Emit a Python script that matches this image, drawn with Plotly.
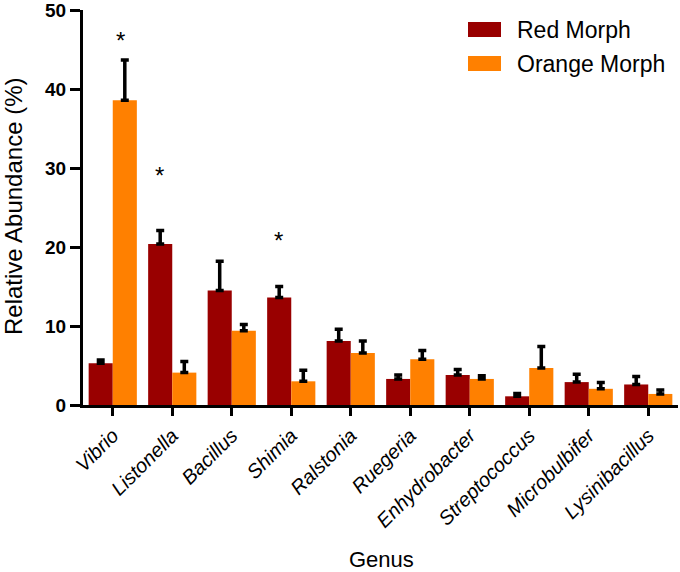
import plotly.graph_objects as go

genus = ["Vibrio", "Listonella", "Bacillus", "Shimia", "Ralstonia", "Ruegeria",
         "Enhydrobacter", "Streptococcus", "Microbulbifer", "Lysinibacillus"]
red_vals = [5.3, 20.4, 14.5, 13.6, 8.1, 3.3, 3.8, 1.1, 2.9, 2.6]
red_err = [0.4, 1.7, 3.7, 1.4, 1.5, 0.5, 0.7, 0.35, 1.0, 1.0]
orange_vals = [38.6, 4.1, 9.4, 3.0, 6.6, 5.8, 3.3, 4.7, 2.05, 1.4]
orange_err = [5.1, 1.4, 0.8, 1.4, 1.5, 1.1, 0.4, 2.7, 0.8, 0.5]
y_ticks = [0, 10, 20, 30, 40, 50]
# significance markers: (genus index, y value, x pixel offset)
sig_idx = [0, 1, 3]
sig_y = [46.2, 29.0, 20.8]
sig_shift = [8, -13, -13]

RED = "#990000"
ORANGE = "#FF8000"
FONT = "Arial, Liberation Sans, sans-serif"

W, H = 680, 572
L, R, T, B = 83, 2, 10, 167
PW, PH = W - L - R, H - T - B


def px(xp):
    return (xp - L) / PW


def py(yp):
    return 1 - (yp - T) / PH


x = list(range(len(genus)))
fig = go.Figure()
fig.add_trace(go.Bar(x=x, y=red_vals, name="Red Morph", marker_color=RED,
                     marker_line_width=0,
                     error_y=dict(type="data", array=red_err, arrayminus=[0]*len(genus),
                                  symmetric=False, color="black", thickness=3.5, width=4)))
fig.add_trace(go.Bar(x=x, y=orange_vals, name="Orange Morph", marker_color=ORANGE,
                     marker_line_width=0,
                     error_y=dict(type="data", array=orange_err, arrayminus=[0]*len(genus),
                                  symmetric=False, color="black", thickness=3.5, width=4)))

for i, yv, s in zip(sig_idx, sig_y, sig_shift):
    fig.add_annotation(x=i, y=yv, text="*", showarrow=False, xshift=s,
                       font=dict(family=FONT, size=24, color="black"), xref="x", yref="y")

# custom legend
legend_items = [("Red Morph", RED, 22), ("Orange Morph", ORANGE, 56)]
for name, col, y0 in legend_items:
    fig.add_shape(type="rect", xref="paper", yref="paper",
                  x0=px(468), x1=px(501), y0=py(y0 + 15), y1=py(y0),
                  fillcolor=col, line_width=0)
    fig.add_annotation(xref="paper", yref="paper", x=px(515), y=py(y0 + 7.5),
                       text=name, showarrow=False, xanchor="left", yanchor="middle",
                       font=dict(family=FONT, size=23, color="black"))

# axis titles
fig.add_annotation(xref="paper", yref="paper", x=px(381), y=py(559), text="Genus",
                   showarrow=False, xanchor="center", yanchor="middle",
                   font=dict(family=FONT, size=22, color="black"))
fig.add_annotation(xref="paper", yref="paper", x=px(13), y=py(207),
                   text="Relative Abundance (%)", textangle=-90,
                   showarrow=False, xanchor="center", yanchor="middle",
                   font=dict(family=FONT, size=24, color="black"))

fig.update_layout(
    width=W, height=H,
    margin=dict(l=L, r=R, t=T, b=B),
    paper_bgcolor="white", plot_bgcolor="white",
    barmode="group", bargap=0.19, bargroupgap=0,
    showlegend=False,
    font=dict(family=FONT, color="black"),
)
fig.update_xaxes(
    range=[-0.5, 9.5], tickmode="array", tickvals=x, automargin=False,
    ticktext=[f"<i>{g}</i>" for g in genus], tickangle=-45,
    tickfont=dict(family=FONT, size=20, color="black"),
    showline=True, linecolor="black", linewidth=3,
    ticks="outside", ticklen=8, tickwidth=3, tickcolor="black",
    showgrid=False, zeroline=False,
)
fig.update_yaxes(
    range=[0, 50.02], tickmode="array", tickvals=y_ticks, automargin=False,
    ticktext=[f"<b>{v}</b>" for v in y_ticks], ticklabeloverflow="allow",
    tickfont=dict(family=FONT, size=19, color="black"),
    showline=True, linecolor="black", linewidth=3,
    ticks="outside", ticklen=10, tickwidth=3, tickcolor="black",
    showgrid=False, zeroline=False,
)
fig.write_html("out.html", config={"displayModeBar": False},
               post_script="document.body.style.margin='0';document.body.style.overflow='hidden';")
